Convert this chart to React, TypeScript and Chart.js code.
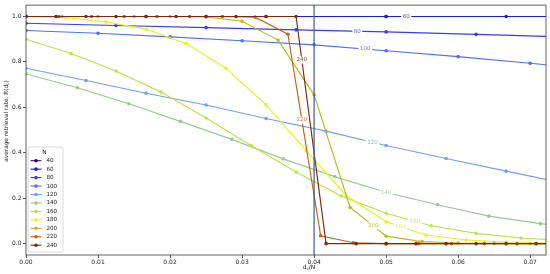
import React, { useEffect, useRef } from "react";
import { Chart, registerables } from "chart.js";

Chart.register(...registerables);

// ---- data ----
const N_VALUES = [40, 60, 80, 100, 120, 140, 160, 180, 200, 220, 240];

// retrieval rate R at d = 0, 1, 2, ... (x = d / N)
const R_40 = [1, 1, 1, 1];
const R_60 = [1, 1, 1, 1, 1, 1];
const R_80 = [0.97, 0.96, 0.951, 0.941, 0.932, 0.921, 0.91];
const R_100 = [0.938, 0.926, 0.91, 0.893, 0.875, 0.849, 0.823, 0.794, 0.765];
const R_120 = [0.772, 0.718, 0.662, 0.61, 0.551, 0.495, 0.432, 0.375, 0.319, 0.265];
const R_140 = [0.747, 0.686, 0.616, 0.538, 0.459, 0.373, 0.295, 0.225, 0.171, 0.121, 0.088, 0.065];
const R_160 = [0.9, 0.837, 0.76, 0.667, 0.553, 0.432, 0.315, 0.21, 0.134, 0.079, 0.045, 0.025, 0.014];
const R_180 = [1.0, 0.995, 0.976, 0.944, 0.881, 0.772, 0.611, 0.41, 0.212, 0.096, 0.038, 0.016, 0.007, 0.003, 0.001];
const R_200 = [1, 1, 1, 1, 1, 0.998, 0.979, 0.896, 0.655, 0.159, 0.033, 0.009, 0.003, 0.001, 0, 0];
const R_220 = [1, 1, 1, 1, 1, 1, 1, 0.997, 0.922, 0.035, 0.004, 0, 0, 0, 0, 0, 0];
const R_240 = [1, 1, 1, 1, 1, 1, 1, 1, 1, 1, 0, 0, 0, 0, 0, 0, 0, 0, 0];

const SERIES = [R_40, R_60, R_80, R_100, R_120, R_140, R_160, R_180, R_200, R_220, R_240];

// where each inline label sits along its line (x value); null = no label
const LABEL_X = [null, 0.0528, 0.046, 0.0471, 0.0481, 0.05, 0.054, 0.052, 0.0482, 0.0383, 0.0383];

const THRESHOLD = 0.04;
const X_TICKS = [0, 0.01, 0.02, 0.03, 0.04, 0.05, 0.06, 0.07];
const Y_TICKS = [0, 0.2, 0.4, 0.6, 0.8, 1.0];
const X_RANGE = [0, 0.0722];
const Y_RANGE = [-0.05, 1.05];

const COLORS = [
  "#2c0c6e",
  "#1c1cd8",
  "#3a3af2",
  "#5070ee",
  "#6ea2f0",
  "#96cc8e",
  "#bde24a",
  "#eaf020",
  "#c8b41c",
  "#c0661a",
  "#7a2a0c",
];

const FONT = '"DejaVu Sans", sans-serif';

type Part = { t: string; sub?: boolean };

function richWidth(ctx: CanvasRenderingContext2D, parts: Part[], size: number) {
  let w = 0;
  for (const p of parts) {
    ctx.font = `${p.sub ? size * 0.7 : size}px ${FONT}`;
    w += ctx.measureText(p.t).width;
  }
  return w;
}

function drawRich(ctx: CanvasRenderingContext2D, parts: Part[], cx: number, cy: number, size: number) {
  const w = richWidth(ctx, parts, size);
  let x = cx - w / 2;
  ctx.textAlign = "left";
  ctx.textBaseline = "middle";
  for (const p of parts) {
    const s = p.sub ? size * 0.7 : size;
    ctx.font = `${s}px ${FONT}`;
    ctx.fillText(p.t, x, p.sub ? cy + size * 0.3 : cy);
    x += ctx.measureText(p.t).width;
  }
}

function interp(pts: { x: number; y: number }[], xv: number) {
  for (let i = 0; i < pts.length - 1; i++) {
    const a = pts[i];
    const b = pts[i + 1];
    if (xv >= a.x && xv <= b.x) {
      const t = (xv - a.x) / (b.x - a.x);
      return a.y + t * (b.y - a.y);
    }
  }
  return pts[pts.length - 1].y;
}

const overlayPlugin = {
  id: "overlay",
  afterDatasetsDraw(chart: any) {
    const { ctx, chartArea: a, scales } = chart;
    const xs = scales.x;
    const ys = scales.y;
    ctx.save();

    // threshold line
    const px = xs.getPixelForValue(THRESHOLD);
    ctx.strokeStyle = "#3b5a8a";
    ctx.lineWidth = 1.2;
    ctx.beginPath();
    ctx.moveTo(px, a.top);
    ctx.lineTo(px, a.bottom);
    ctx.stroke();

    // inline labels
    chart.data.datasets.forEach((ds: any, i: number) => {
      const lx = LABEL_X[i];
      if (lx == null) return;
      const yv = interp(ds.data, lx);
      const x = xs.getPixelForValue(lx);
      const y = ys.getPixelForValue(yv);
      const txt = String(N_VALUES[i]);
      ctx.font = `5.5px ${FONT}`;
      const w = ctx.measureText(txt).width;
      ctx.fillStyle = "#ffffff";
      ctx.fillRect(x - w / 2 - 1.5, y - 3.5, w + 3, 7);
      ctx.fillStyle = COLORS[i];
      ctx.globalAlpha = 0.85;
      ctx.textAlign = "center";
      ctx.textBaseline = "middle";
      ctx.fillText(txt, x, y);
      ctx.globalAlpha = 1;
    });

    // frame
    ctx.strokeStyle = "#3a3a3a";
    ctx.lineWidth = 0.8;
    ctx.strokeRect(a.left, a.top, a.right - a.left, a.bottom - a.top);

    // legend
    const bx = 28, by = 147, bw = 35, bh = 105;
    ctx.fillStyle = "rgba(255,255,255,0.85)";
    ctx.strokeStyle = "#d0d0d0";
    ctx.lineWidth = 0.8;
    ctx.beginPath();
    if ((ctx as any).roundRect) (ctx as any).roundRect(bx, by, bw, bh, 2);
    else ctx.rect(bx, by, bw, bh);
    ctx.fill();
    ctx.stroke();
    ctx.fillStyle = "#222";
    ctx.font = `5.8px ${FONT}`;
    ctx.textAlign = "center";
    ctx.textBaseline = "middle";
    ctx.fillText("N", bx + bw / 2 - 1, by + 5.7);
    N_VALUES.forEach((n, i) => {
      const yy = 160.7 + i * 8.45;
      ctx.strokeStyle = COLORS[i];
      ctx.lineWidth = 1.1;
      ctx.beginPath();
      ctx.moveTo(30.5, yy);
      ctx.lineTo(41.5, yy);
      ctx.stroke();
      ctx.fillStyle = COLORS[i];
      ctx.beginPath();
      ctx.arc(36, yy, 1.8, 0, Math.PI * 2);
      ctx.fill();
      ctx.fillStyle = "#222";
      ctx.font = `5.6px ${FONT}`;
      ctx.textAlign = "left";
      ctx.fillText(String(n), 46.5, yy);
    });

    // axis titles
    ctx.fillStyle = "#222";
    drawRich(ctx, [{ t: "d" }, { t: "c", sub: true }, { t: "/N" }], 309, 267.5, 6);
    ctx.save();
    ctx.translate(6.5, 121);
    ctx.rotate(-Math.PI / 2);
    drawRich(
      ctx,
      [{ t: "average retrieval rate, R(d" }, { t: "c", sub: true }, { t: ")" }],
      0,
      0,
      5.8
    );
    ctx.restore();

    ctx.restore();
  },
};

export default function App() {
  const ref = useRef<HTMLCanvasElement>(null);

  useEffect(() => {
    document.body.style.margin = "0";
    const canvas = ref.current;
    if (!canvas) return;

    const datasets = SERIES.map((vals, i) => ({
      label: String(N_VALUES[i]),
      data: vals.map((v, d) => ({ x: d / N_VALUES[i], y: v })),
      borderColor: COLORS[i],
      backgroundColor: COLORS[i],
      pointBackgroundColor: COLORS[i],
      pointBorderColor: COLORS[i],
      pointRadius: 1.8,
      pointBorderWidth: 0,
      borderWidth: 1.15,
      tension: 0,
      clip: 0,
      order: N_VALUES.length - i,
    }));

    const chart = new Chart(canvas, {
      type: "line",
      data: { datasets },
      options: {
        animation: false,
        responsive: false,
        devicePixelRatio: 1,
        layout: { padding: { top: 3, right: 3, left: 0, bottom: 0 } },
        plugins: {
          legend: { display: false },
          tooltip: { enabled: false },
        },
        scales: {
          x: {
            type: "linear",
            min: X_RANGE[0],
            max: X_RANGE[1],
            afterBuildTicks: (s: any) => {
              s.ticks = X_TICKS.map((v) => ({ value: v }));
            },
            afterFit: (s: any) => {
              s.height = 19;
            },
            ticks: {
              autoSkip: false,
              maxRotation: 0,
              padding: 1,
              color: "#222",
              font: { family: "DejaVu Sans", size: 6 },
              callback: (v: any) => Number(v).toFixed(2),
            },
            grid: {
              display: true,
              drawOnChartArea: false,
              drawTicks: true,
              tickLength: 3,
              tickColor: "#333",
              tickWidth: 0.8,
            },
            border: { display: false },
          },
          y: {
            type: "linear",
            min: Y_RANGE[0],
            max: Y_RANGE[1],
            afterBuildTicks: (s: any) => {
              s.ticks = Y_TICKS.map((v) => ({ value: v }));
            },
            afterFit: (s: any) => {
              s.width = 26;
            },
            ticks: {
              autoSkip: false,
              padding: 1.5,
              color: "#222",
              font: { family: "DejaVu Sans", size: 6 },
              callback: (v: any) => Number(v).toFixed(1),
            },
            grid: {
              display: true,
              drawOnChartArea: false,
              drawTicks: true,
              tickLength: 3,
              tickColor: "#333",
              tickWidth: 0.8,
            },
            border: { display: false },
          },
        },
      },
      plugins: [overlayPlugin],
    } as any);

    return () => chart.destroy();
  }, []);

  return (
    <div style={{ width: 550, height: 274, position: "relative" }}>
      <canvas ref={ref} width={550} height={274} style={{ width: 550, height: 274, display: "block" }} />
    </div>
  );
}
